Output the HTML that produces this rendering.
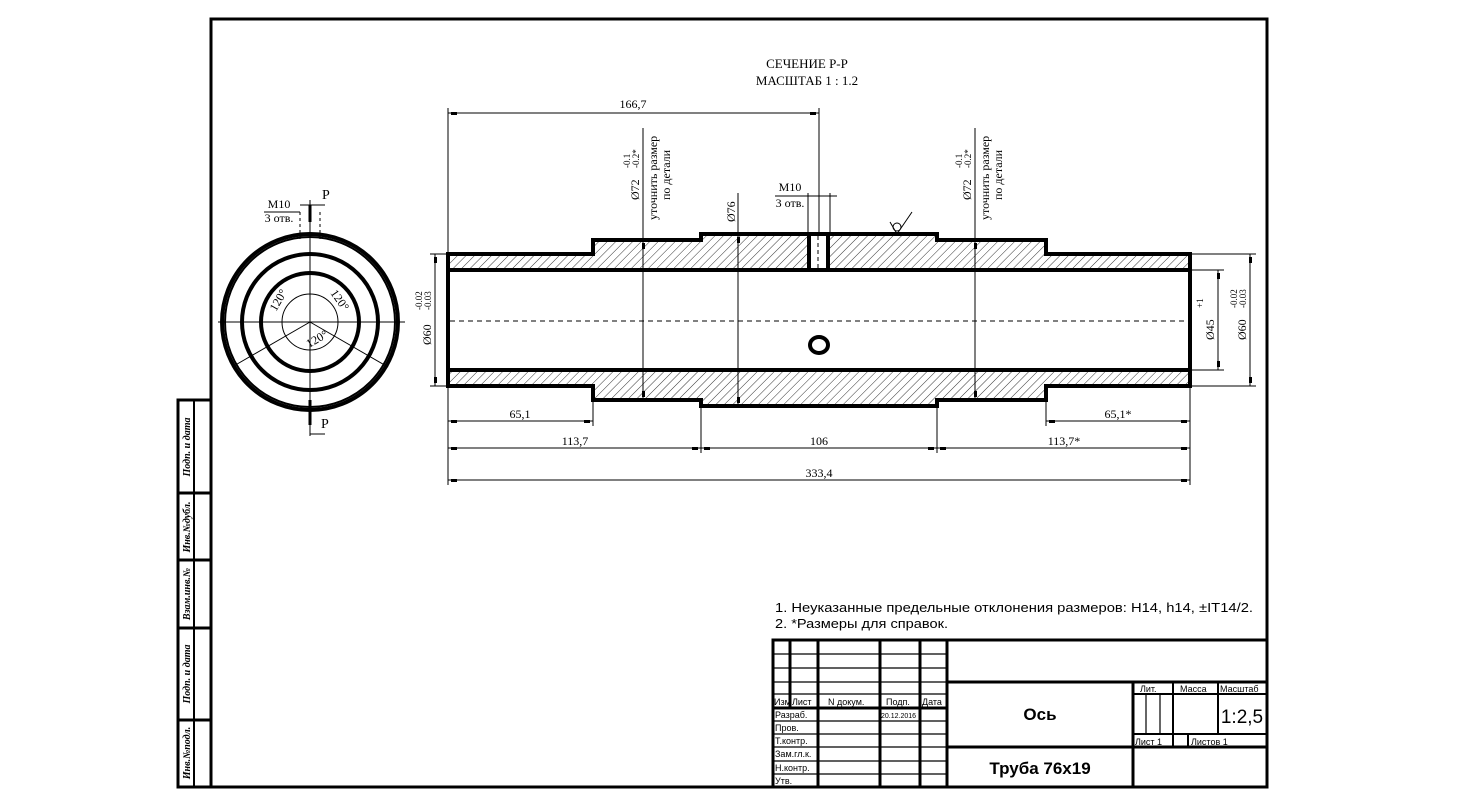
<!DOCTYPE html>
<html><head><meta charset="utf-8"><style>
html,body{margin:0;padding:0;background:#fff;}
svg{display:block;}
text{font-family:"Liberation Serif",serif;fill:#000;}
.s{font-family:"Liberation Sans",sans-serif;}
</style></head><body>
<svg width="1457" height="810" viewBox="0 0 1457 810" xmlns="http://www.w3.org/2000/svg">
<defs>
<pattern id="h" patternUnits="userSpaceOnUse" width="6" height="6" patternTransform="rotate(45)">
<line x1="0" y1="0" x2="0" y2="6" stroke="#000" stroke-width="0.8"/>
</pattern>
</defs>
<rect width="1457" height="810" fill="#fff"/>
<rect x="211" y="19" width="1056" height="768" fill="none" stroke="#000" stroke-width="3"/>
<g stroke="#000" stroke-width="3" fill="none">
<rect x="178" y="400" width="33" height="387"/>
<line x1="194" y1="400" x2="194" y2="787" stroke-width="2"/>
<line x1="178" y1="493" x2="211" y2="493"/>
<line x1="178" y1="560" x2="211" y2="560"/>
<line x1="178" y1="628" x2="211" y2="628"/>
<line x1="178" y1="720" x2="211" y2="720"/>
</g>
<g font-size="10" font-style="italic" font-weight="bold">
<text transform="translate(190,447) rotate(-90)" text-anchor="middle">Подп. и дата</text>
<text transform="translate(190,527) rotate(-90)" text-anchor="middle">Инв.№дубл.</text>
<text transform="translate(190,594) rotate(-90)" text-anchor="middle">Взам.инв.№</text>
<text transform="translate(190,674) rotate(-90)" text-anchor="middle">Подп. и дата</text>
<text transform="translate(190,753) rotate(-90)" text-anchor="middle">Инв.№подл.</text>
</g>

<text x="807" y="68" font-size="13" text-anchor="middle">СЕЧЕНИЕ Р-Р</text>
<text x="807" y="85" font-size="13" text-anchor="middle">МАСШТАБ 1 : 1.2</text>

<path d="M448,254 H593 V240 H701 V234 H937 V240 H1046 V254 H1190 V270 H448 Z" fill="url(#h)"/>
<path d="M448,386 H593 V400 H701 V406 H937 V400 H1046 V386 H1190 V370 H448 Z" fill="url(#h)"/>
<rect x="809" y="235" width="19" height="35" fill="#fff"/>
<g stroke="#000" stroke-width="4" fill="none">
<path d="M448,254 H593 V240 H701 V234 H937 V240 H1046 V254 H1190 V386 H1046 V400 H937 V406 H701 V400 H593 V386 H448 Z"/>
<line x1="448" y1="270" x2="1190" y2="270"/>
<line x1="448" y1="370" x2="1190" y2="370"/>
<line x1="809" y1="235" x2="809" y2="270"/>
<line x1="828" y1="235" x2="828" y2="270"/>
<ellipse cx="819" cy="345" rx="9" ry="8"/>
</g>
<line x1="818" y1="236" x2="818" y2="270" stroke="#000" stroke-dasharray="4,3"/>
<line x1="450" y1="321" x2="1188" y2="321" stroke="#000" stroke-dasharray="5,4"/>
<g stroke="#000" fill="none"><circle cx="897" cy="227" r="4"/><path d="M890,222 L897,234 L912,212"/></g>

<g stroke="#000" stroke-width="1" fill="none">
<line x1="448" y1="108" x2="448" y2="254"/>
<line x1="819" y1="108" x2="819" y2="235"/>
<line x1="448" y1="113" x2="819" y2="113"/>
<line x1="448" y1="386" x2="448" y2="485"/>
<line x1="1190" y1="386" x2="1190" y2="485"/>
<line x1="593" y1="400" x2="593" y2="426"/>
<line x1="701" y1="406" x2="701" y2="453"/>
<line x1="937" y1="406" x2="937" y2="453"/>
<line x1="1046" y1="400" x2="1046" y2="426"/>
<line x1="448" y1="421" x2="593" y2="421"/>
<line x1="1046" y1="421" x2="1190" y2="421"/>
<line x1="448" y1="448" x2="1190" y2="448"/>
<line x1="448" y1="480" x2="1190" y2="480"/>
<line x1="643" y1="128" x2="643" y2="400"/>
<line x1="738" y1="193" x2="738" y2="406"/>
<line x1="975" y1="128" x2="975" y2="400"/>
<line x1="435" y1="254" x2="435" y2="386"/>
<line x1="430" y1="254" x2="448" y2="254"/>
<line x1="430" y1="386" x2="448" y2="386"/>
<line x1="1190" y1="254" x2="1256" y2="254"/>
<line x1="1190" y1="386" x2="1256" y2="386"/>
<line x1="1190" y1="270" x2="1224" y2="270"/>
<line x1="1190" y1="370" x2="1224" y2="370"/>
<line x1="1218" y1="270" x2="1218" y2="370"/>
<line x1="1250" y1="254" x2="1250" y2="386"/>
<line x1="808" y1="193" x2="808" y2="235"/>
<line x1="830" y1="193" x2="830" y2="235"/>
<line x1="775" y1="196" x2="837" y2="196"/>
</g>
<g fill="#000">
<rect x="451" y="112" width="6" height="3"/><rect x="810" y="112" width="6" height="3"/>
<rect x="451" y="420" width="6" height="3"/><rect x="584" y="420" width="6" height="3"/>
<rect x="1049" y="420" width="6" height="3"/><rect x="1181" y="420" width="6" height="3"/>
<rect x="451" y="447" width="6" height="3"/><rect x="692" y="447" width="6" height="3"/><rect x="704" y="447" width="6" height="3"/><rect x="928" y="447" width="6" height="3"/><rect x="940" y="447" width="6" height="3"/><rect x="1181" y="447" width="6" height="3"/>
<rect x="451" y="479" width="6" height="3"/><rect x="1181" y="479" width="6" height="3"/>
<rect x="434" y="257" width="3" height="6"/><rect x="434" y="377" width="3" height="6"/>
<rect x="1217" y="273" width="3" height="6"/><rect x="1217" y="361" width="3" height="6"/>
<rect x="1249" y="257" width="3" height="6"/><rect x="1249" y="377" width="3" height="6"/>
<rect x="642" y="243" width="3" height="6"/><rect x="642" y="391" width="3" height="6"/>
<rect x="737" y="237" width="3" height="6"/><rect x="737" y="397" width="3" height="6"/>
<rect x="974" y="243" width="3" height="6"/><rect x="974" y="391" width="3" height="6"/>
</g>
<g font-size="12" text-anchor="middle">
<text x="633" y="108">166,7</text>
<text x="520" y="418">65,1</text>
<text x="1118" y="418">65,1*</text>
<text x="575" y="445">113,7</text>
<text x="819" y="445">106</text>
<text x="1064" y="445">113,7*</text>
<text x="819" y="477">333,4</text>
<text x="790" y="191">М10</text>
<text x="790" y="207">3 отв.</text>
</g>
<g font-size="12">
<text transform="translate(639,200) rotate(-90)">Ø72</text>
<text transform="translate(630,168) rotate(-90)" font-size="9">-0.1</text>
<text transform="translate(639,168) rotate(-90)" font-size="9">-0.2*</text>
<text transform="translate(657,220) rotate(-90)">уточнить размер</text>
<text transform="translate(670,200) rotate(-90)">по детали</text>
<text transform="translate(971,200) rotate(-90)">Ø72</text>
<text transform="translate(962,168) rotate(-90)" font-size="9">-0.1</text>
<text transform="translate(971,168) rotate(-90)" font-size="9">-0.2*</text>
<text transform="translate(989,220) rotate(-90)">уточнить размер</text>
<text transform="translate(1002,200) rotate(-90)">по детали</text>
<text transform="translate(735,222) rotate(-90)">Ø76</text>
<text transform="translate(431,345) rotate(-90)">Ø60</text>
<text transform="translate(422,310) rotate(-90)" font-size="9">-0.02</text>
<text transform="translate(431,310) rotate(-90)" font-size="9">-0.03</text>
<text transform="translate(1214,340) rotate(-90)">Ø45</text>
<text transform="translate(1203,308) rotate(-90)" font-size="9">+1</text>
<text transform="translate(1246,340) rotate(-90)">Ø60</text>
<text transform="translate(1237,308) rotate(-90)" font-size="9">-0.02</text>
<text transform="translate(1246,308) rotate(-90)" font-size="9">-0.03</text>
</g>

<g stroke="#000" fill="none">
<circle cx="310" cy="322" r="88" stroke-width="4"/>
<circle cx="310" cy="322" r="85" stroke-width="2"/>
<circle cx="310" cy="322" r="68" stroke-width="4"/>
<circle cx="310" cy="322" r="49" stroke-width="4"/>
<circle cx="310" cy="322" r="28" stroke-width="1"/>
<line x1="218" y1="322" x2="405" y2="322" stroke-width="1"/>
<line x1="310" y1="200" x2="310" y2="436" stroke-width="1"/>
<line x1="310" y1="322" x2="232" y2="367"/>
<line x1="310" y1="322" x2="388" y2="367"/>
<line x1="300" y1="212" x2="300" y2="240" stroke-dasharray="3,3"/>
<line x1="320" y1="212" x2="320" y2="240" stroke-dasharray="3,3"/>
<line x1="300" y1="205" x2="325" y2="205"/>
<line x1="264" y1="212" x2="300" y2="212"/>
<line x1="310" y1="205" x2="310" y2="222" stroke-width="3"/>
<line x1="310" y1="400" x2="310" y2="425" stroke-width="3"/>
<line x1="310" y1="434" x2="325" y2="434"/>
</g>
<text x="322" y="199" font-size="14">Р</text>
<text x="321" y="428" font-size="14">Р</text>
<text x="279" y="208" font-size="12" text-anchor="middle">М10</text>
<text x="279" y="222" font-size="12" text-anchor="middle">3 отв.</text>
<g font-size="12">
<text transform="translate(276,312) rotate(-60)">120°</text>
<text transform="translate(330,293) rotate(55)">120°</text>
<text transform="translate(309,348) rotate(-30)">120°</text>
</g>

<text class="s" x="775" y="612" font-size="13" textLength="478" lengthAdjust="spacingAndGlyphs">1. Неуказанные предельные отклонения размеров: Н14, h14,  ±IT14/2.</text>
<text class="s" x="775" y="628" font-size="13" textLength="173" lengthAdjust="spacingAndGlyphs">2. *Размеры для справок.</text>

<g stroke="#000" stroke-width="3" fill="none">
<rect x="773" y="640" width="494" height="147"/>
<line x1="947" y1="640" x2="947" y2="787"/>
<line x1="947" y1="682" x2="1267" y2="682"/>
<line x1="947" y1="747" x2="1267" y2="747"/>
<line x1="1133" y1="682" x2="1133" y2="787"/>
<line x1="773" y1="708" x2="947" y2="708"/>
<line x1="790" y1="640" x2="790" y2="708"/>
<line x1="818" y1="640" x2="818" y2="787"/>
<line x1="880" y1="640" x2="880" y2="787"/>
<line x1="920" y1="640" x2="920" y2="787"/>
<line x1="1133" y1="694" x2="1267" y2="694" stroke-width="2"/>
<line x1="1133" y1="734" x2="1267" y2="734" stroke-width="2"/>
<line x1="1173" y1="682" x2="1173" y2="747" stroke-width="2"/>
<line x1="1218" y1="682" x2="1218" y2="734" stroke-width="2"/>
<line x1="1188" y1="734" x2="1188" y2="747" stroke-width="2"/>
</g>
<g stroke="#000" stroke-width="1.2" fill="none">
<line x1="773" y1="654" x2="947" y2="654"/>
<line x1="773" y1="668" x2="947" y2="668"/>
<line x1="773" y1="682" x2="947" y2="682"/>
<line x1="773" y1="694" x2="947" y2="694"/>
<line x1="773" y1="721" x2="947" y2="721"/>
<line x1="773" y1="734" x2="947" y2="734"/>
<line x1="773" y1="747" x2="947" y2="747"/>
<line x1="773" y1="761" x2="947" y2="761"/>
<line x1="773" y1="774" x2="947" y2="774"/>
<line x1="1146" y1="694" x2="1146" y2="734"/>
<line x1="1160" y1="694" x2="1160" y2="734"/>
</g>
<g font-size="9">
<text class="s" x="774" y="705">Изм</text>
<text class="s" x="792" y="705">Лист</text>
<text class="s" x="828" y="705">N докум.</text>
<text class="s" x="886" y="705">Подп.</text>
<text class="s" x="922" y="705">Дата</text>
<text class="s" x="775" y="718">Разраб.</text>
<text class="s" x="881" y="718" font-size="7">20.12.2016</text>
<text class="s" x="775" y="731">Пров.</text>
<text class="s" x="775" y="744">Т.контр.</text>
<text class="s" x="775" y="757">Зам.гл.к.</text>
<text class="s" x="775" y="771">Н.контр.</text>
<text class="s" x="775" y="784">Утв.</text>
<text class="s" x="1140" y="692">Лит.</text>
<text class="s" x="1180" y="692">Масса</text>
<text class="s" x="1220" y="692">Масштаб</text>
<text class="s" x="1135" y="745">Лист    1</text>
<text class="s" x="1191" y="745">Листов   1</text>
</g>
<text class="s" x="1040" y="720" font-size="17" font-weight="bold" text-anchor="middle">Ось</text>
<text class="s" x="1040" y="774" font-size="17" font-weight="bold" text-anchor="middle">Труба 76х19</text>
<text class="s" x="1242" y="723" font-size="19" text-anchor="middle">1:2,5</text>
</svg>
</body></html>
